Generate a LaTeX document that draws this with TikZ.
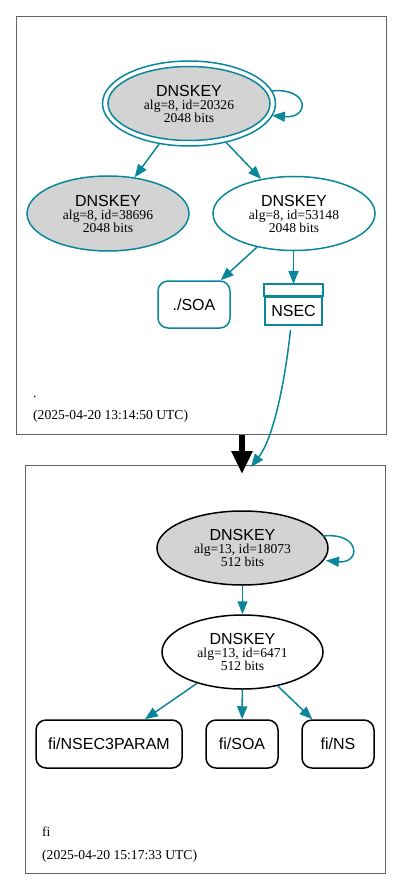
\documentclass[tikz,border=0pt]{standalone}
\usepackage{fontspec}
\setmainfont{Liberation Serif}
\setsansfont{Liberation Sans}
\usetikzlibrary{shapes.geometric,arrows.meta,calc}
\definecolor{teal1}{RGB}{10,135,154}
\definecolor{keygray}{RGB}{211,211,211}
\definecolor{clgray}{RGB}{100,100,100}
\tikzset{
  keynode/.style={ellipse,draw,line width=1.5pt,inner sep=0pt,align=center,
    font=\fontsize{13.6}{13}\selectfont},
  rrnode/.style={rectangle,rounded corners=10pt,draw,line width=1.5pt,
    font=\sffamily\fontsize{16}{16}\selectfont,inner sep=0pt},
  edge/.style={line width=1.5pt,-{Triangle[length=13pt,width=10pt]}},
  cluster/.style={draw=clgray,line width=0.9pt},
  cllabel/.style={anchor=base west,inner sep=0pt,font=\fontsize{13.6}{13}\selectfont},
}
\newcommand{\keytext}[2]{{\sffamily\fontsize{16}{13}\selectfont DNSKEY}\\#1\\#2}
\begin{document}
\begin{tikzpicture}[x=1pt,y=-1pt]
\useasboundingbox (0,0) rectangle (403,890);
\fill[white] (0,0) rectangle (403,890);
% clusters
\draw[cluster] (16,16) rectangle (386,434);
\draw[cluster] (25,465) rectangle (385,873);
\node[cllabel] (dotlab) at (33,397) {.};
\node[cllabel] (dottime) at (33,419) {(2025-04-20 13:14:50 UTC)};
\node[cllabel] (filab) at (42,836) {fi};
\node[cllabel] (fitime) at (42,859) {(2025-04-20 15:17:33 UTC)};

% top zone
\node[ellipse,draw=teal1,line width=1.5pt,minimum width=173pt,minimum height=85pt] (k1o) at (189,103.5) {};
\node[keynode,draw=teal1,fill=keygray,minimum width=162pt,minimum height=74pt] (k1) at (189,103.5) {\keytext{alg=8, id=20326}{2048 bits}};
\node[keynode,draw=teal1,fill=keygray,minimum width=162pt,minimum height=75pt] (k2) at (108,213.5) {\keytext{alg=8, id=38696}{2048 bits}};
\node[keynode,draw=teal1,fill=white,minimum width=162pt,minimum height=74pt] (k3) at (294,213.5) {\keytext{alg=8, id=53148}{2048 bits}};
\node[rrnode,draw=teal1,minimum width=72pt,minimum height=47pt] (soa) at (194,304.5) {./SOA};
\node[rectangle,draw=teal1,line width=2pt,minimum width=57pt,minimum height=28pt,inner sep=0pt,
  font=\sffamily\fontsize{16}{16}\selectfont] (nsec) at (293.5,311) {NSEC};
\draw[teal1,line width=2pt] (nsec.north west) rectangle ($(nsec.north east)+(0,-12)$);

\coordinate (l1s) at (271,91);
\coordinate (l1e) at (272,115.5);
\draw[edge,teal1] (l1s) .. controls (310,87) and (310,119) .. (l1e);
\draw[edge,teal1] (k1o) -- (k2);
\draw[edge,teal1] (k1o) -- (k3);
\draw[edge,teal1] (k3) -- (soa);
\draw[edge,teal1] (k3.south -| nsec.north) -- ($(nsec.north)+(0,-12)$);
\coordinate (nsecend) at (251,467);
\draw[edge,teal1] ($(nsec.south)+(-3,4)$) .. controls (284,390) and (272,440) .. (nsecend);

% inter-zone arrow
\coordinate (zs) at (242,435);
\coordinate (ze) at (242,474);
\draw[line width=6pt,-{Triangle[length=23pt,width=20pt]}] (zs) -- (ze);

% bottom zone
\node[keynode,draw=black,fill=keygray,minimum width=171pt,minimum height=74pt] (f1) at (242.5,548) {\keytext{alg=13, id=18073}{512 bits}};
\node[keynode,draw=black,fill=white,minimum width=161pt,minimum height=74pt] (f2) at (242.5,652) {\keytext{alg=13, id=6471}{512 bits}};
\node[rrnode,draw=black,minimum width=146pt,minimum height=48pt] (n3p) at (109,744) {fi/NSEC3PARAM};
\node[rrnode,draw=black,minimum width=72pt,minimum height=48pt] (fsoa) at (242,744) {fi/SOA};
\node[rrnode,draw=black,minimum width=72pt,minimum height=48pt] (fns) at (338,744) {fi/NS};

\coordinate (l2s) at (323,536);
\coordinate (l2e) at (326,560.5);
\draw[edge,teal1] (l2s) .. controls (361,532) and (361,564) .. (l2e);
\draw[edge,teal1] (f1) -- (f2);
\draw[edge,teal1] (f2) -- (n3p);
\draw[edge,teal1] (f2) -- (fsoa);
\draw[edge,teal1] (f2) -- (fns);
\end{tikzpicture}
\end{document}
